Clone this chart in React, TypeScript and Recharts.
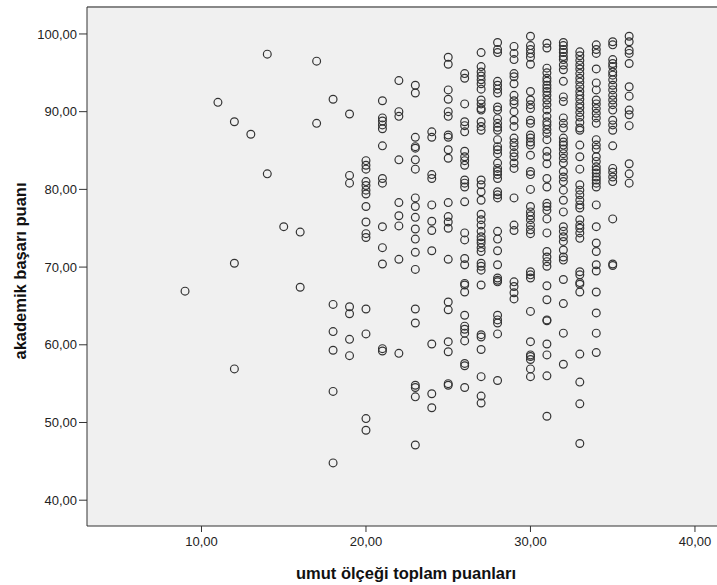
import { ScatterChart, Scatter, XAxis, YAxis, CartesianGrid, ReferenceLine } from 'recharts'

// akademik başarı puanı values, grouped by umut ölçeği score
const s9 = [66.9]
const s11 = [91.2]
const s12 = [88.7, 70.5, 56.9]
const s13 = [87.1]
const s14 = [97.4, 82.0]
const s15 = [75.2]
const s16 = [74.5, 67.4]
const s17 = [96.5, 88.5]
const s18 = [91.6, 65.2, 61.7, 59.3, 54.0, 44.8]
const s19 = [89.7, 81.8, 80.8, 64.9, 64.0, 60.7, 58.6]
const s20 = [83.7, 83.1, 82.6, 81.0, 80.5, 79.9, 79.4, 77.8, 75.8, 74.3, 73.8, 64.6, 61.4, 50.5, 49.0]
const s21 = [91.4, 89.2, 88.8, 88.3, 87.8, 85.6, 81.4, 80.8, 75.2, 72.5, 70.4, 59.5, 59.2]
const s22 = [94.0, 90.0, 89.4, 83.8, 78.3, 76.6, 75.3, 71.0, 58.9]
const s23 = [93.4, 92.4, 86.7, 85.5, 85.3, 83.8, 82.6, 78.9, 77.8, 76.4, 74.9, 73.6, 71.9, 69.7, 64.6, 62.8, 54.8, 54.5, 53.3, 47.1]
const s24 = [87.4, 86.7, 81.9, 81.4, 78.0, 75.9, 74.7, 72.1, 60.1, 53.7, 51.9]
const s25 = [97.0, 96.1, 92.8, 91.6, 90.0, 89.4, 87.0, 86.7, 85.1, 84.0, 78.3, 76.5, 75.8, 75.0, 71.0, 65.5, 64.5, 60.4, 59.1, 55.0, 54.8]
const s26 = [94.9, 94.3, 91.0, 88.7, 88.2, 87.4, 84.9, 84.2, 83.7, 83.1, 81.2, 80.8, 80.3, 78.4, 74.4, 73.5, 71.1, 70.3, 67.9, 67.7, 66.8, 63.8, 62.4, 62.0, 61.5, 60.5, 57.6, 57.3, 54.5]
const s27 = [97.6, 95.8, 95.1, 94.6, 94.1, 93.6, 92.9, 91.5, 91.0, 90.4, 90.2, 88.7, 88.1, 87.6, 81.2, 80.6, 79.7, 78.6, 76.8, 76.1, 75.4, 74.6, 73.9, 73.5, 73.1, 72.5, 72.0, 70.5, 70.1, 69.6, 67.7, 61.3, 61.0, 59.4, 55.9, 53.4, 52.5]
const s28 = [98.9, 98.0, 97.6, 93.9, 93.4, 92.9, 92.4, 90.6, 90.2, 89.1, 88.5, 88.0, 87.6, 86.4, 85.5, 85.1, 84.6, 83.4, 82.7, 82.3, 81.9, 81.4, 79.7, 79.3, 78.9, 74.6, 73.6, 72.1, 70.3, 68.6, 68.3, 68.1, 63.8, 63.2, 62.8, 61.4, 55.4]
const s29 = [98.4, 97.5, 96.7, 94.9, 94.5, 93.6, 92.1, 91.4, 91.0, 90.0, 88.9, 88.1, 86.6, 86.0, 85.5, 84.7, 84.2, 83.4, 82.7, 78.9, 75.4, 74.7, 68.1, 67.5, 66.7, 65.9]
const s30 = [99.7, 98.5, 98.0, 97.5, 97.0, 96.1, 92.6, 91.5, 90.9, 90.4, 88.9, 88.5, 87.0, 86.6, 86.1, 85.7, 84.4, 82.3, 81.9, 80.0, 77.8, 77.1, 76.6, 76.1, 75.4, 74.8, 74.3, 69.4, 69.0, 68.6, 64.3, 60.4, 58.7, 58.5, 58.1, 56.9, 55.9]
const s31 = [98.8, 98.2, 95.6, 95.0, 94.3, 93.9, 93.4, 93.0, 92.6, 92.1, 91.5, 90.9, 90.2, 89.4, 88.7, 88.3, 87.7, 87.2, 86.4, 84.9, 84.2, 83.3, 81.4, 80.3, 78.2, 77.8, 77.3, 76.2, 74.4, 72.0, 71.3, 70.7, 70.1, 67.6, 65.8, 63.2, 63.1, 60.1, 58.7, 56.0, 50.8]
const s32 = [98.9, 98.5, 98.0, 97.6, 97.1, 96.7, 96.0, 95.4, 93.9, 91.9, 91.3, 89.2, 88.5, 87.9, 86.6, 86.1, 85.7, 85.2, 84.6, 84.0, 83.4, 82.3, 81.6, 81.0, 79.9, 78.6, 77.1, 75.2, 74.6, 73.9, 73.3, 72.2, 71.3, 70.9, 68.4, 65.3, 61.5, 57.5]
const s33 = [97.7, 97.2, 96.6, 96.0, 95.5, 94.9, 94.3, 93.8, 93.2, 92.6, 92.1, 91.6, 91.0, 90.5, 89.9, 89.3, 88.6, 87.9, 87.6, 85.7, 84.2, 82.6, 80.6, 79.9, 79.3, 78.6, 78.0, 77.6, 76.1, 75.4, 75.0, 74.4, 73.7, 69.4, 69.0, 68.0, 67.8, 66.8, 58.8, 55.2, 52.4, 47.3]
const s34 = [98.6, 98.0, 97.5, 95.5, 93.7, 92.8, 91.5, 91.0, 90.4, 89.8, 89.2, 88.5, 86.4, 85.7, 85.2, 84.2, 83.6, 82.9, 82.5, 82.1, 81.6, 81.2, 80.8, 80.3, 78.0, 75.2, 73.1, 72.0, 70.3, 69.5, 66.8, 64.1, 61.5, 59.0]
const s35 = [99.0, 98.6, 96.7, 96.2, 95.8, 95.1, 94.7, 94.1, 93.4, 92.8, 92.1, 91.5, 90.9, 90.2, 88.9, 88.3, 87.6, 85.6, 82.7, 82.2, 81.6, 81.0, 76.2, 70.4, 70.2]
const s36 = [99.7, 99.0, 97.9, 97.5, 96.2, 93.2, 92.0, 90.2, 89.6, 88.2, 83.3, 82.0, 80.8]

const columns: [number, number[]][] = [
  [9, s9], [11, s11], [12, s12], [13, s13], [14, s14], [15, s15], [16, s16], [17, s17],
  [18, s18], [19, s19], [20, s20], [21, s21], [22, s22], [23, s23], [24, s24], [25, s25],
  [26, s26], [27, s27], [28, s28], [29, s29], [30, s30], [31, s31], [32, s32], [33, s33],
  [34, s34], [35, s35], [36, s36],
]

const xTicks = [10, 20, 30, 40]
const yTicks = [40, 50, 60, 70, 80, 90, 100]

const FONT = '"Liberation Sans", Arial, sans-serif'

const fmt = (v: number) => v.toFixed(2).replace('.', ',')

function Ring(props: any) {
  const { cx, cy } = props
  if (cx == null || cy == null) return null
  return <circle cx={cx} cy={cy} r={3.9} fill="none" stroke="#333" strokeWidth={1.2} />
}

export default function App() {
  const points = columns.flatMap(([score, vals]) => vals.map(v => ({ x: score, y: v })))

  return (
    <div style={{ position: 'absolute', left: 0, top: 0, width: 717, height: 585, background: '#fff' }}>
      <ScatterChart width={717} height={585} margin={{ top: 7, right: 0, bottom: 0, left: 0 }}>
        <CartesianGrid horizontal={false} vertical={false} fill="#f0f0f0" />
        <XAxis
          type="number"
          dataKey="x"
          domain={[3.04, 41.34]}
          allowDataOverflow
          ticks={xTicks}
          tickFormatter={fmt}
          height={59}
          tickSize={6}
          tickMargin={5}
          axisLine={{ stroke: '#333' }}
          tickLine={{ stroke: '#333' }}
          tick={{ fill: '#222', fontSize: 13, fontFamily: FONT }}
        />
        <YAxis
          type="number"
          dataKey="y"
          domain={[36.68, 103.47]}
          allowDataOverflow
          ticks={yTicks}
          tickFormatter={fmt}
          width={87}
          tickSize={8}
          tickMargin={2}
          axisLine={{ stroke: '#333' }}
          tickLine={{ stroke: '#333' }}
          tick={{ fill: '#222', fontSize: 13, fontFamily: FONT }}
        />
        <ReferenceLine y={103.47} stroke="#888" strokeWidth={2} />
        <Scatter data={points} shape={Ring} isAnimationActive={false} />
      </ScatterChart>
      <svg width={717} height={585} style={{ position: 'absolute', left: 0, top: 0, pointerEvents: 'none' }}>
        <text x={406} y={579} textAnchor="middle" fontFamily={FONT} fontWeight="bold" fontSize={16.5} fill="#111">
          umut ölçeği toplam puanları
        </text>
        <text
          x={0}
          y={0}
          transform="translate(25.5,271) rotate(-90)"
          textAnchor="middle"
          fontFamily={FONT}
          fontWeight="bold"
          fontSize={16.5}
          fill="#111"
        >
          akademik başarı puanı
        </text>
      </svg>
    </div>
  )
}
